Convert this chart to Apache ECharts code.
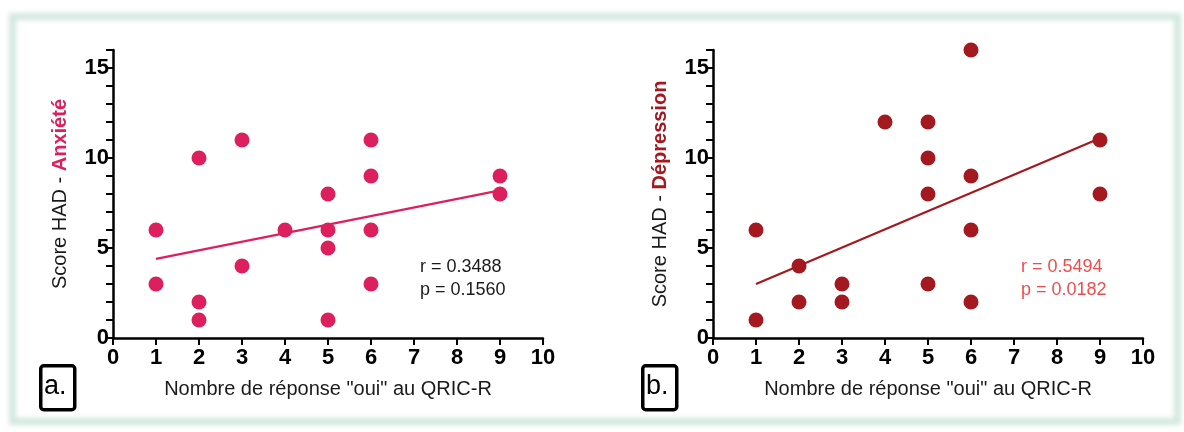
<!DOCTYPE html>
<html>
<head>
<meta charset="utf-8">
<script src="https://cdn.jsdelivr.net/npm/echarts@6/dist/echarts.min.js"></script>
<style>
  html, body { margin: 0; padding: 0; background: #ffffff; }
  #wrap { position: relative; width: 1184px; height: 432px; overflow: hidden; background: #fff; }
  #frame { position: absolute; left: 9px; top: 13px; width: 1158px; height: 398px;
           border: 7px solid #d2e8df; filter: blur(2.5px); }
  #chart { position: absolute; left: 0; top: 0; width: 1184px; height: 432px; }
</style>
</head>
<body>
<div id="wrap">
  <div id="frame"></div>
  <div id="chart"></div>
</div>
<script>
// ---- data ----
const xTickLabels = ['0','1','2','3','4','5','6','7','8','9','10'];
const yTickLabels = ['0','5','10','15'];

const anxX = [1, 1, 2, 2, 2, 3, 3, 4, 5, 5, 5, 5, 6, 6, 6, 6, 9, 9];
const anxY = [6, 3, 10, 2, 1, 11, 4, 6, 8, 6, 5, 1, 11, 9, 6, 3, 9, 8];
const anxFitX = [1, 9];
const anxFitY = [4.4, 8.2];

const depX = [1, 1, 2, 2, 3, 3, 4, 5, 5, 5, 5, 6, 6, 6, 6, 9, 9];
const depY = [6, 1, 4, 2, 3, 2, 12, 12, 10, 8, 3, 16, 9, 6, 2, 11, 8];
const depFitX = [1, 9];
const depFitY = [3.0, 11.1];

const statsA = ['r = 0.3488', 'p = 0.1560'];
const statsB = ['r = 0.5494', 'p = 0.0182'];

const PINK = '#de1f5d';
const DRED = '#a3191f';
const STAT_RED = '#ee4d4e';
const FONT = '"Liberation Sans", Arial, sans-serif';

function pairs(xs, ys) { return xs.map((x, i) => [x, ys[i]]); }

function xAxisDef(gi) {
  return {
    type: 'value', gridIndex: gi, min: 0, max: 10, interval: 1,
    name: 'Nombre de réponse "oui" au QRIC-R',
    nameLocation: 'middle', nameGap: 41,
    nameTextStyle: { fontFamily: FONT, fontSize: 20, color: '#1a1a1a' },
    axisLine: { show: true, onZero: false, lineStyle: { color: '#000', width: 2.5 } },
    axisTick: { show: true, inside: false, length: 7, lineStyle: { color: '#000', width: 2 } },
    axisLabel: { fontFamily: FONT, fontWeight: 'bold', fontSize: 22, color: '#000', margin: 9,
                 formatter: v => xTickLabels[v] },
    splitLine: { show: false }
  };
}

function yAxisDef(gi, word, color) {
  return {
    type: 'value', gridIndex: gi, min: 0, max: 16, interval: 5,
    name: '{n|Score HAD - }{b|' + word + '}',
    nameLocation: 'middle', nameGap: 43, nameRotate: 90,
    nameTextStyle: {
      rich: {
        n: { fontFamily: FONT, fontSize: 20, color: '#1a1a1a' },
        b: { fontFamily: FONT, fontSize: 20, fontWeight: 'bold', color: color }
      }
    },
    axisLine: { show: true, onZero: false, lineStyle: { color: '#000', width: 2.5 } },
    axisTick: { show: true, inside: false, length: 7, lineStyle: { color: '#000', width: 2 } },
    minorTick: { show: true, splitNumber: 5, length: 7, lineStyle: { color: '#000', width: 2 } },
    axisLabel: { fontFamily: FONT, fontWeight: 'bold', fontSize: 22, color: '#000', margin: 4,
                 formatter: v => yTickLabels[v / 5] },
    splitLine: { show: false },
    minorSplitLine: { show: false }
  };
}

function statText(x, y, txt, color) {
  return { type: 'text', left: x, top: y, z: 10,
           style: { text: txt, fontFamily: FONT, fontSize: 18, fill: color } };
}

function panelLabel(x, y, txt) {
  return [
    { type: 'rect', left: x, top: y, z: 10,
      shape: { width: 34, height: 44, r: 3 },
      style: { fill: '#fff', stroke: '#000', lineWidth: 3.5 } },
    { type: 'text', left: x + 5, top: y + 9, z: 11,
      style: { text: txt, fontFamily: FONT, fontSize: 27, fill: '#000' } }
  ];
}

const chart = echarts.init(document.getElementById('chart'), null, { renderer: 'canvas' });
chart.setOption({
  animation: false,
  backgroundColor: 'transparent',
  grid: [
    { left: 113, top: 50, width: 430, height: 288 },
    { left: 713, top: 50, width: 430, height: 288 }
  ],
  xAxis: [xAxisDef(0), xAxisDef(1)],
  yAxis: [yAxisDef(0, 'Anxiété', PINK), yAxisDef(1, 'Dépression', DRED)],
  series: [
    { type: 'line', xAxisIndex: 0, yAxisIndex: 0, data: pairs(anxFitX, anxFitY),
      showSymbol: false, lineStyle: { color: PINK, width: 2.2 }, z: 2 },
    { type: 'scatter', xAxisIndex: 0, yAxisIndex: 0, data: pairs(anxX, anxY),
      symbolSize: 15, itemStyle: { color: PINK, opacity: 1 }, z: 3 },
    { type: 'line', xAxisIndex: 1, yAxisIndex: 1, data: pairs(depFitX, depFitY),
      showSymbol: false, lineStyle: { color: DRED, width: 2.2 }, z: 2 },
    { type: 'scatter', xAxisIndex: 1, yAxisIndex: 1, data: pairs(depX, depY),
      symbolSize: 15, itemStyle: { color: DRED, opacity: 1 }, z: 3 }
  ],
  graphic: [
    statText(420, 258, statsA[0], '#1a1a1a'),
    statText(420, 281, statsA[1], '#1a1a1a'),
    statText(1021, 258, statsB[0], STAT_RED),
    statText(1021, 281, statsB[1], STAT_RED),
    ...panelLabel(39, 364, 'a.'),
    ...panelLabel(641, 364, 'b.')
  ]
});
</script>
</body>
</html>
